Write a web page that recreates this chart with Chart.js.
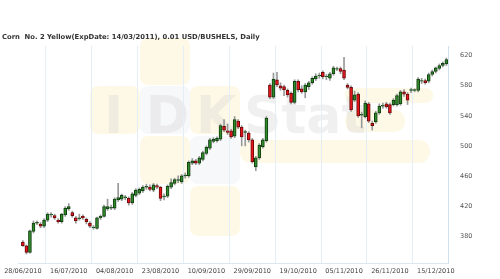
<!DOCTYPE html>
<html>
<head>
<meta charset="utf-8">
<script src="https://cdn.jsdelivr.net/npm/chart.js@4/dist/chart.umd.min.js"></script>
<style>
  html, body { margin: 0; padding: 0; background: #fff; }
</style>
</head>
<body>
<canvas id="chart" width="500" height="279"></canvas>
<script>
// Daily candles, 28/06/2010 .. 20/12/2010
const openPrices = [
  372, 367, 358, 386, 397, 396, 393, 401, 408, 407, 401, 399, 408, 416, 411, 404, 403, 406, 402, 397,
  391, 390, 404, 406, 416, 417, 417, 428, 429, 431, 430, 424, 434, 437, 440, 445, 445, 441, 447, 445,
  432, 433, 445, 450, 454, 452, 460, 460, 477, 480, 477, 482, 490, 497, 506, 507, 509, 526, 520, 520,
  513, 533, 525, 518, 517, 508, 472, 484, 499, 507, 581, 565, 588, 580, 579, 574, 570, 558, 586, 576,
  572, 579, 584, 589, 593, 598, 592, 590, 596, 602, 603, 601, 581, 578, 561, 569, 541, 539, 556, 530,
  532, 544, 553, 556, 555, 555, 555, 556, 572, 569, 574, 574, 574, 586, 587, 586, 595, 599, 603, 607,
  609
];
const highPrices = [
  374, 368, 388, 400, 400, 398, 403, 411, 411, 409, 403, 410, 419, 423, 413, 406, 409, 408, 404, 399,
  394, 405, 408, 421, 429, 421, 431, 450, 436, 434, 432, 438, 443, 444, 447, 449, 448, 450, 449, 446,
  436, 448, 456, 457, 460, 462, 464, 480, 483, 482, 486, 493, 500, 510, 511, 512, 529, 535, 529, 522,
  539, 535, 527, 521, 519, 510, 486, 503, 510, 539, 583, 597, 598, 584, 581, 576, 572, 588, 588, 580,
  583, 586, 592, 596, 597, 600, 595, 598, 606, 605, 605, 618, 583, 580, 573, 571, 545, 560, 558, 533,
  546, 556, 557, 558, 557, 563, 569, 574, 575, 571, 577, 576, 591, 590, 589, 597, 601, 605, 609, 612,
  617
];
const lowPrices = [
  366, 356, 357, 384, 395, 391, 391, 399, 405, 402, 397, 397, 406, 414, 405, 397, 401, 402, 396, 391,
  389, 389, 402, 405, 414, 415, 415, 426, 427, 428, 421, 422, 432, 435, 438, 442, 440, 439, 443, 427,
  428, 431, 443, 448, 451, 450, 457, 458, 475, 475, 475, 480, 488, 495, 504, 505, 507, 519, 515, 510,
  511, 523, 500, 500, 505, 477, 467, 482, 497, 505, 563, 563, 579, 574, 567, 565, 556, 556, 572, 570,
  564, 575, 582, 587, 590, 589, 588, 587, 594, 600, 596, 588, 576, 546, 559, 538, 524, 537, 531, 521,
  530, 542, 550, 550, 542, 553, 553, 554, 566, 555, 571, 572, 572, 583, 582, 584, 593, 597, 601, 605,
  607
];
const closePrices = [
  367, 358, 387, 397, 398, 393, 401, 409, 409, 404, 399, 409, 417, 419, 407, 400, 404, 404, 399, 393,
  392, 404, 406, 419, 419, 418, 429, 431, 434, 432, 424, 436, 441, 442, 445, 446, 442, 448, 445, 430,
  433, 446, 451, 455, 455, 460, 461, 478, 480, 477, 484, 491, 498, 508, 509, 510, 527, 521, 518, 512,
  535, 525, 512, 519, 508, 479, 484, 501, 508, 537, 565, 589, 581, 577, 575, 568, 558, 586, 575, 572,
  581, 584, 590, 593, 594, 592, 593, 596, 604, 603, 599, 590, 578, 548, 568, 540, 542, 557, 533, 527,
  544, 553, 554, 552, 544, 561, 567, 572, 569, 561, 575, 575, 589, 587, 584, 595, 599, 604, 607, 610,
  615
];

const xTickLabels = ["28/06/2010", "16/07/2010", "04/08/2010", "23/08/2010", "10/09/2010",
                     "29/09/2010", "19/10/2010", "05/11/2010", "26/11/2010", "15/12/2010"];
const xTickStep = 13;
const yTickValues = [380, 420, 460, 500, 540, 580, 620];

const titleText = "Corn  No. 2 Yellow(ExpDate: 14/03/2011), 0.01 USD/BUSHELS, Daily";

// candle bodies and wicks as floating bars
const bodies = openPrices.map((o, i) => ({ x: i, y: [o, closePrices[i]] }));
const wicks = lowPrices.map((l, i) => ({ x: i, y: [l, highPrices[i]] }));
const isUp = openPrices.map((o, i) => closePrices[i] >= o);

// faint "IDK Stat" background logo + title
const decor = {
  id: "decor",
  beforeDraw(chart) {
    const ctx = chart.ctx;
    ctx.save();
    function box(x, y, w, h, r, col) {
      ctx.fillStyle = col;
      ctx.beginPath();
      ctx.roundRect(x, y, w, h, r);
      ctx.fill();
    }
    const yel = "rgba(253, 238, 190, 0.38)";
    const gry = "rgba(228, 231, 240, 0.3)";
    box(140, 38, 50, 47, 8, yel);
    box(90, 86, 50, 48, 8, yel);
    box(140, 86, 50, 48, 8, gry);
    box(190, 86, 50, 48, 8, yel);
    box(140, 136, 50, 48, 8, yel);
    box(190, 136, 50, 48, 8, gry);
    box(190, 186, 50, 50, 8, yel);
    box(240, 140, 190, 23, 11, yel);
    box(345, 88, 88, 15, 7, yel);
    box(345, 110, 60, 22, 10, yel);
    ctx.fillStyle = "rgba(205, 205, 205, 0.3)";
    ctx.font = "bold 52px 'DejaVu Sans'";
    ctx.textBaseline = "alphabetic";
    ctx.fillText("I", 104, 133);
    ctx.fillText("D", 146, 133);
    ctx.fillText("K", 196, 133);
    ctx.fillText("Stat", 244, 133);
    ctx.restore();
  },
  afterDraw(chart) {
    const ctx = chart.ctx;
    ctx.save();
    ctx.fillStyle = "#333";
    ctx.font = "bold 6.8px 'DejaVu Sans'";
    ctx.textBaseline = "middle";
    ctx.fillText(titleText, 2, 37);
    ctx.restore();
  }
};

new Chart(document.getElementById("chart").getContext("2d"), {
  type: "bar",
  data: {
    datasets: [
      {
        label: "body",
        data: bodies,
        backgroundColor: isUp.map(u => u ? "#2f8a2a" : "#e8141c"),
        borderColor: isUp.map(u => u ? "#103d10" : "#6a0a0a"),
        borderWidth: 1,
        borderSkipped: false,
        barThickness: 3,
        grouped: false,
        order: 0
      },
      {
        label: "wick",
        data: wicks,
        backgroundColor: "#999",
        borderWidth: 0,
        barThickness: 1,
        grouped: false,
        order: 1
      }
    ]
  },
  options: {
    responsive: false,
    animation: false,
    layout: { padding: { top: 46, left: 16, right: 0, bottom: 0 } },
    plugins: {
      legend: { display: false },
      tooltip: { enabled: false }
    },
    scales: {
      x: {
        type: "linear",
        min: -1.126,
        max: 120.46,
        offset: false,
        afterBuildTicks: s => { s.ticks = xTickLabels.map((_, i) => ({ value: i * xTickStep })); },
        afterFit: s => { s.height = 16; },
        grid: { color: "#e4eef6", drawTicks: false },
        border: { color: "#dbe7f1" },
        ticks: {
          autoSkip: false,
          maxRotation: 0,
          padding: 4,
          color: "#444",
          font: { family: "'DejaVu Sans'", size: 6.5 },
          callback: v => xTickLabels[v / xTickStep]
        }
      },
      y: {
        position: "right",
        min: 344,
        max: 633,
        afterBuildTicks: s => { s.ticks = yTickValues.map(v => ({ value: v })); },
        afterFit: s => { s.width = 52; },
        grid: { display: false },
        border: { display: true, color: "#cfe0ec" },
        ticks: {
          padding: 4,
          color: "#555",
          font: { family: "'DejaVu Sans'", size: 6.5 }
        }
      }
    }
  },
  plugins: [decor]
});
</script>
</body>
</html>
